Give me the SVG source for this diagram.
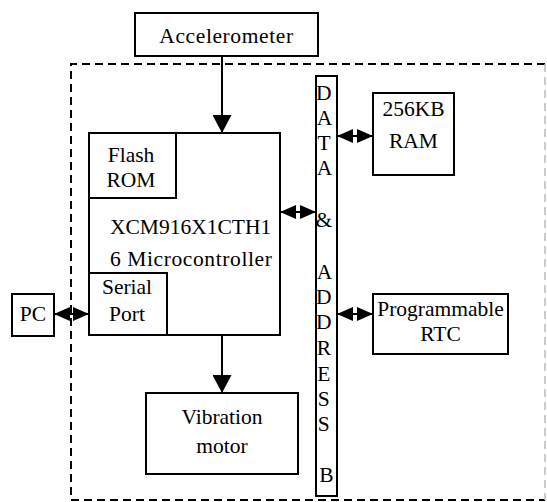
<svg xmlns="http://www.w3.org/2000/svg" width="547" height="502" viewBox="0 0 547 502">
<style>
.box{fill:#fff;stroke:#000;stroke-width:2}
text{font-family:'Liberation Serif','Times New Roman','DejaVu Serif',serif;font-size:21.5px;fill:#000}
.c{text-anchor:middle}
.sp{letter-spacing:0.6px}
.ln{stroke:#000;stroke-width:2;fill:none}
.dash{fill:none;stroke:#000;stroke-width:2;stroke-dasharray:8 5}
</style>
<defs>
<marker id="ah" viewBox="0 0 18 19" refX="18" refY="9.5" markerWidth="18" markerHeight="19" markerUnits="userSpaceOnUse" orient="auto">
<path d="M0,0 L18,9.5 L0,19 z" fill="#000"/>
</marker>
<marker id="dh" viewBox="0 0 16 14" refX="16" refY="7" markerWidth="16" markerHeight="14" markerUnits="userSpaceOnUse" orient="auto-start-reverse">
<path d="M0,0 L16,7 L0,14 z" fill="#000"/>
</marker>
</defs>
<g id="boundary">
<path class="dash" d="M545,64 L71,64 L71,500 L545,500"/>
<path d="M545,64 L545,500" fill="none" stroke="#bbb" stroke-width="1.5" stroke-dasharray="8 5"/>
</g>
<g id="connectors">
<line class="ln" x1="222" y1="56" x2="222" y2="133" marker-end="url(#ah)"/>
<line class="ln" x1="222" y1="335" x2="222" y2="393" marker-end="url(#ah)"/>
<line class="ln" x1="54" y1="314" x2="89" y2="314" marker-start="url(#dh)" marker-end="url(#dh)"/>
<line class="ln" x1="280" y1="212" x2="316" y2="212" marker-start="url(#dh)" marker-end="url(#dh)"/>
<line class="ln" x1="337" y1="136" x2="373" y2="136" marker-start="url(#dh)" marker-end="url(#dh)"/>
<line class="ln" x1="337" y1="314" x2="373" y2="314" marker-start="url(#dh)" marker-end="url(#dh)"/>
</g>
<g id="accelerometer">
<rect class="box" x="135" y="13" width="183" height="43"/>
<text class="c sp" x="226.5" y="43">Accelerometer</text>
</g>
<g id="microcontroller">
<rect class="box" x="89" y="133" width="191" height="202"/>
<text x="110" y="234">XCM916X1CTH1</text>
<text class="sp" x="110" y="266">6 Microcontroller</text>
</g>
<g id="flash-rom">
<rect class="box" x="89" y="133" width="87" height="65"/>
<text class="c" x="131" y="162">Flash</text>
<text class="c" x="131" y="187">ROM</text>
</g>
<g id="serial-port">
<rect class="box" x="89" y="273" width="78" height="62"/>
<text class="c" x="127" y="294">Serial</text>
<text class="c" x="127" y="321">Port</text>
</g>
<g id="pc">
<rect class="box" x="12" y="294" width="42" height="42"/>
<text class="c" x="33" y="321">PC</text>
</g>
<g id="vibration-motor">
<rect class="box" x="146" y="393" width="152" height="81"/>
<text class="c" x="222" y="424">Vibration</text>
<text class="c" x="222" y="453">motor</text>
</g>
<g id="bus">
<rect class="box" x="316" y="76" width="21" height="420"/>
<text class="c" x="326.5">
<tspan x="326.5" y="100">D</tspan>
<tspan x="326.5" y="125">A</tspan>
<tspan x="326.5" y="150">T</tspan>
<tspan x="326.5" y="175">A</tspan>
<tspan x="326.5" y="227">&amp;</tspan>
<tspan x="326.5" y="279">A</tspan>
<tspan x="326.5" y="304">D</tspan>
<tspan x="326.5" y="329">D</tspan>
<tspan x="326.5" y="355">R</tspan>
<tspan x="326.5" y="381">E</tspan>
<tspan x="326.5" y="406">S</tspan>
<tspan x="326.5" y="431">S</tspan>
<tspan x="326.5" y="482">B</tspan>
</text>
</g>
<g id="ram">
<rect class="box" x="373" y="93" width="81" height="82"/>
<text class="c" x="413.5" y="116">256KB</text>
<text class="c" x="413.5" y="148">RAM</text>
</g>
<g id="rtc">
<rect class="box" x="373" y="294" width="135" height="60"/>
<text class="c" x="440.5" y="316">Programmable</text>
<text class="c" x="440.5" y="341">RTC</text>
</g>
</svg>
